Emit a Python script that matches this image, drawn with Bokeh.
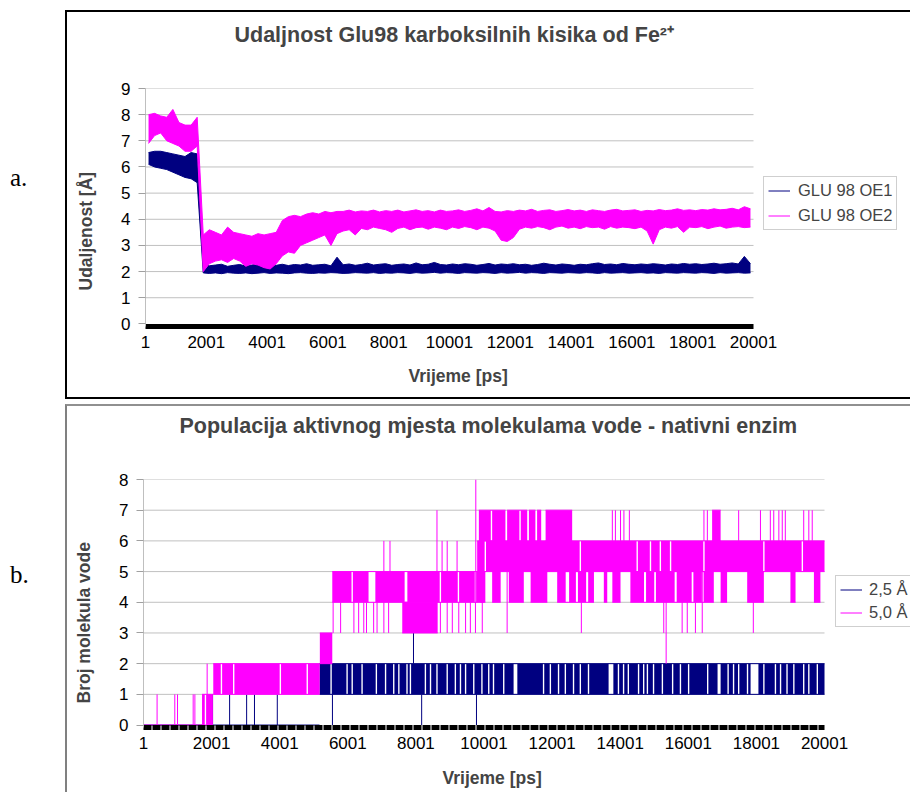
from bokeh.plotting import figure
from bokeh.models import (FixedTicker, Legend, LegendItem, Div, Title, Range1d, ColumnDataSource, Spacer)
from bokeh.layouts import column, row
from bokeh.embed import file_html
from bokeh.resources import INLINE

FONT = "Liberation Sans"
NAVY = "#000080"
MAGENTA = "#ff00ff"
GRID = "#c0c0c0"

# ---------------- shared axis data ----------------
x_ticks = [1, 2001, 4001, 6001, 8001, 10001, 12001, 14001, 16001, 18001, 20001]
x_tick_labels = ["1", "2001", "4001", "6001", "8001", "10001", "12001", "14001", "16001", "18001", "20001"]
ya_ticks = [0, 1, 2, 3, 4, 5, 6, 7, 8, 9]
yb_ticks = [0, 1, 2, 3, 4, 5, 6, 7, 8]

# ---------------- chart a: distance Glu98 O -> Fe (Å), min/max per 200 ps window ----------------
win_start = list(range(1, 20001, 200))
oe1_lo = [6.10, 6.00, 5.95, 5.90, 5.80, 5.70, 5.60, 5.55, 5.40, 1.95,
          1.93, 1.95, 1.92, 1.96, 1.94, 1.93, 1.95, 1.92, 1.94, 1.96,
          1.93, 1.95, 1.94, 1.92, 1.95, 1.96, 1.94, 1.93, 1.95, 1.94,
          1.96, 1.95, 1.93, 1.94, 1.96, 1.95, 1.94, 1.96, 1.93, 1.95,
          1.94, 1.96, 1.95, 1.93, 1.96, 1.94, 1.95, 1.97, 1.94, 1.96,
          1.95, 1.93, 1.96, 1.95, 1.94, 1.96, 1.95, 1.93, 1.96, 1.94,
          1.95, 1.97, 1.94, 1.96, 1.95, 1.93, 1.96, 1.95, 1.94, 1.96,
          1.95, 1.94, 1.96, 1.95, 1.93, 1.96, 1.94, 1.95, 1.96, 1.94,
          1.95, 1.96, 1.94, 1.95, 1.93, 1.96, 1.95, 1.94, 1.96, 1.95,
          1.94, 1.96, 1.95, 1.93, 1.96, 1.94, 1.95, 1.96, 1.94, 1.95]
oe1_hi = [6.55, 6.60, 6.60, 6.55, 6.50, 6.45, 6.40, 6.55, 6.50, 2.30,
          2.22, 2.25, 2.28, 2.20, 2.24, 2.27, 2.21, 2.25, 2.30, 2.22,
          2.26, 2.24, 2.28, 2.23, 2.27, 2.25, 2.30, 2.24, 2.26, 2.28,
          2.22, 2.55, 2.26, 2.29, 2.24, 2.27, 2.32, 2.25, 2.28, 2.30,
          2.24, 2.27, 2.29, 2.25, 2.33, 2.26, 2.28, 2.35, 2.27, 2.25,
          2.29, 2.26, 2.30, 2.28, 2.24, 2.27, 2.31, 2.25, 2.29, 2.27,
          2.30, 2.26, 2.28, 2.24, 2.27, 2.32, 2.28, 2.25, 2.29, 2.27,
          2.24, 2.28, 2.26, 2.30, 2.33, 2.27, 2.29, 2.26, 2.31, 2.28,
          2.26, 2.29, 2.27, 2.30, 2.28, 2.25, 2.29, 2.27, 2.31, 2.28,
          2.30, 2.27, 2.29, 2.32, 2.28, 2.30, 2.33, 2.29, 2.58, 2.30]
oe2_lo = [6.90, 7.20, 7.30, 7.00, 6.90, 6.80, 6.60, 6.60, 6.80, 2.00,
          2.30, 2.40, 2.45, 2.35, 2.50, 2.40, 2.20, 2.30, 2.25, 2.15,
          2.10, 2.30, 2.60, 2.75, 2.70, 3.00, 3.10, 3.20, 3.30, 3.40,
          3.00, 3.45, 3.55, 3.60, 3.40, 3.65, 3.60, 3.70, 3.65, 3.60,
          3.50, 3.65, 3.70, 3.60, 3.68, 3.70, 3.62, 3.70, 3.66, 3.60,
          3.70, 3.65, 3.72, 3.68, 3.60, 3.70, 3.66, 3.55, 3.20, 3.15,
          3.30, 3.62, 3.70, 3.66, 3.72, 3.68, 3.60, 3.70, 3.74, 3.66,
          3.70, 3.64, 3.72, 3.68, 3.70, 3.62, 3.72, 3.66, 3.70, 3.68,
          3.64, 3.70, 3.55, 3.05, 3.60, 3.70, 3.66, 3.72, 3.50, 3.70,
          3.68, 3.72, 3.64, 3.70, 3.74, 3.66, 3.70, 3.72, 3.68, 3.70]
oe2_hi = [8.00, 8.05, 7.95, 7.90, 8.20, 7.70, 7.60, 7.60, 7.90, 3.40,
          3.60, 3.50, 3.40, 3.70, 3.50, 3.45, 3.40, 3.35, 3.45, 3.40,
          3.45, 3.50, 3.95, 4.10, 4.15, 4.10, 4.20, 4.25, 4.20, 4.30,
          4.25, 4.30, 4.30, 4.35, 4.28, 4.32, 4.30, 4.35, 4.28, 4.33,
          4.30, 4.35, 4.28, 4.32, 4.36, 4.30, 4.33, 4.28, 4.35, 4.30,
          4.32, 4.36, 4.30, 4.34, 4.40, 4.32, 4.45, 4.30, 4.28, 4.33,
          4.30, 4.35, 4.32, 4.38, 4.30, 4.34, 4.36, 4.30, 4.33, 4.37,
          4.32, 4.35, 4.30, 4.36, 4.33, 4.30, 4.35, 4.38, 4.32, 4.34,
          4.36, 4.30, 4.34, 4.32, 4.37, 4.33, 4.35, 4.40, 4.34, 4.36,
          4.33, 4.37, 4.35, 4.40, 4.36, 4.38, 4.42, 4.36, 4.48, 4.40]

# ---------------- chart b: number of water molecules ----------------
# dense blocks: value flickers between lo and hi over [start, end] ps
nav_blocks = [(5170, 20001, 1, 2)]
# quiet stretches inside the 1-2 block (start, end)
nav_gaps = [(5490, 5530), (5960, 6000), (6110, 6150), (6400, 6440), (6820, 6860), (7090, 7130),
            (7330, 7370), (7480, 7520), (7720, 7760), (7820, 7860), (8260, 8300), (8410, 8450),
            (8600, 8640), (8900, 8940), (9140, 9180), (9290, 9330), (9440, 9480), (9680, 9720),
            (9920, 9960), (10120, 10160), (10260, 10300), (10560, 10600), (10870, 10980),
            (11730, 11770), (11930, 11970), (12170, 12210), (12370, 12410), (12610, 12650),
            (12810, 12850), (13050, 13090), (13660, 13800), (13930, 13970), (14080, 14120),
            (14220, 14260), (14520, 14560), (14670, 14710), (14780, 14820), (14960, 15000),
            (15220, 15260), (15520, 15560), (15750, 15790), (15990, 16030), (16550, 16590),
            (16860, 16950), (17150, 17190), (17310, 17350), (17460, 17500), (17720, 17760),
            (17830, 18060), (18200, 18240), (18540, 18580), (18690, 18730), (18880, 18920),
            (19080, 19120), (19370, 19410), (19520, 19560), (19770, 19810)]
nav_gap_levels = (1, 2)
nav_flat = [(1, 5170, 0)]
nav_spikes = [(2030, 0, 1), (2530, 0, 1), (3030, 0, 1), (3260, 0, 1), (3930, 0, 1),
              (5550, 0, 1), (8170, 0, 1), (9780, 0, 1), (7930, 2, 3)]

mag_blocks = [(1720, 2040, 0, 1), (2050, 5175, 1, 2), (5180, 5545, 2, 3), (5545, 10040, 4, 5),
              (7600, 8640, 3, 4), (9800, 20001, 5, 6),
              (9850, 10630, 6, 7), (10680, 11270, 6, 7), (11320, 11510, 6, 7), (11560, 11680, 6, 7),
              (11810, 12590, 6, 7), (16700, 16950, 6, 7),
              (9900, 9990, 4, 5), (10240, 10490, 4, 5), (10730, 11170, 4, 5), (11370, 11860, 4, 5),
              (12150, 13230, 4, 5), (13520, 13620, 4, 5), (13770, 14010, 4, 5), (14300, 16750, 4, 5),
              (16950, 17140, 4, 5), (17730, 18220, 4, 5), (19000, 19150, 4, 5), (19690, 19880, 4, 5)]
mag_gaps = [(1800, 1840, 0, 1), (2270, 2310, 1, 2), (2630, 2670, 1, 2), (4000, 4040, 1, 2),
            (4790, 4830, 1, 2),
            (6110, 6150, 4, 5), (6610, 6810, 4, 5), (7670, 7750, 4, 5), (8700, 8740, 4, 5),
            (9230, 9270, 4, 5), (9730, 9770, 4, 5),
            (10020, 10060, 5, 6), (12810, 12850, 5, 6), (14480, 14520, 5, 6), (14870, 14910, 5, 6),
            (15160, 15200, 5, 6), (15460, 15500, 5, 6), (16440, 16480, 5, 6), (18200, 18240, 5, 6),
            (19330, 19370, 5, 6),
            (12400, 12500, 4, 5), (12700, 12760, 4, 5), (13000, 13060, 4, 5), (14700, 14760, 4, 5),
            (15000, 15050, 4, 5), (15600, 15660, 4, 5), (16100, 16150, 4, 5), (16400, 16450, 4, 5),
            (11040, 11080, 6, 7), (10200, 10240, 6, 7)]
mag_flat = [(1, 1720, 0)]
mag_spikes = [(400, 0, 1), (920, 0, 1), (1000, 0, 1), (1460, 0, 1), (1510, 0, 1), (1870, 1, 2),
              (5570, 3, 4), (5790, 3, 4), (6180, 3, 4), (6320, 3, 4), (6470, 3, 4), (6550, 3, 4),
              (6760, 3, 4), (6860, 3, 4), (7060, 3, 4), (7200, 3, 4), (8720, 3, 4), (8920, 3, 4),
              (9070, 3, 4), (9260, 3, 4), (9460, 3, 4), (9600, 3, 4), (9750, 3, 4), (9950, 3, 4),
              (7060, 5, 6), (7240, 5, 6), (8620, 5, 7), (8770, 5, 6), (8920, 5, 6), (9210, 5, 6),
              (9760, 4, 8),
              (10680, 3, 5), (12860, 3, 5), (15280, 3, 5), (15350, 2, 5), (15820, 3, 5), (15970, 3, 5),
              (16210, 3, 5), (16410, 3, 5), (17910, 3, 5),
              (13770, 6, 7), (13860, 6, 7), (14010, 6, 7), (14110, 6, 7), (14270, 6, 7), (16460, 6, 7),
              (16560, 6, 7), (17480, 6, 7), (18120, 6, 7), (18410, 6, 7), (18510, 6, 7), (18660, 6, 7),
              (18760, 6, 7), (18850, 6, 7), (19390, 6, 7), (19540, 6, 7), (19640, 6, 7)]


def style_axes(p, yticks):
    p.xaxis.ticker = FixedTicker(ticks=x_ticks)
    p.xaxis.major_label_overrides = dict(zip(x_ticks, x_tick_labels))
    p.xaxis.bounds = (x_ticks[0], x_ticks[-1])
    p.yaxis.ticker = FixedTicker(ticks=yticks)
    p.grid.visible = False
    p.outline_line_color = None
    for ax in (p.xaxis[0], p.yaxis[0]):
        ax.major_label_text_font = FONT
        ax.major_label_text_font_size = "17px"
        ax.major_label_text_color = "#000000"
        ax.minor_tick_line_color = None
        ax.axis_label = None
    p.xaxis.axis_line_width = 5
    p.xaxis.axis_line_color = "#000000"
    p.xaxis.major_tick_line_color = None
    p.xaxis.major_tick_out = 0
    p.xaxis.major_tick_in = 0
    p.xaxis.major_label_standoff = 9
    p.yaxis.axis_line_color = "#bfbfbf"
    p.yaxis.major_tick_line_color = "#a0a0a0"
    p.yaxis.major_tick_out = 7
    p.yaxis.major_tick_in = 0
    p.yaxis.major_label_standoff = 8
    # horizontal gridlines, only over the plotted time span
    gsrc = ColumnDataSource(dict(y=yticks[1:]))
    p.segment(x0=x_ticks[0], x1=x_ticks[-1], y0="y", y1="y", source=gsrc,
              line_color=GRID, line_width=1)


def add_texts(p, title, title_gap, title_offset, xlabel_gap, xlabel_offset,
              ylabel, ylabel_gap, ylabel_offset):
    # chart title (a blank spacer title keeps it away from the plot area)
    p.add_layout(Title(text=" ", text_font_size="10px", standoff=title_gap), "above")
    p.add_layout(Title(text=title, align="left", offset=title_offset, standoff=0,
                       text_font=FONT, text_font_size="21.5px", text_font_style="bold"), "above")
    # x axis title
    p.add_layout(Title(text=" ", text_font_size="10px", standoff=xlabel_gap), "below")
    p.add_layout(Title(text="Vrijeme [ps]", align="left", offset=xlabel_offset, standoff=0,
                       text_font=FONT, text_font_size="17.5px", text_font_style="bold"), "below")
    # y axis title
    p.add_layout(Title(text=" ", text_font_size="10px", standoff=ylabel_gap), "left")
    p.add_layout(Title(text=ylabel, align="left", offset=ylabel_offset, standoff=0,
                       text_font=FONT, text_font_size="17.5px", text_font_style="bold"), "left")


# ================= figure a =================
pa = figure(width=845, height=389, x_range=Range1d(1, 25231), y_range=Range1d(-0.1, 9),
            output_backend="svg", toolbar_location=None, title=None,
            min_border_left=78, min_border_right=0, min_border_top=76, min_border_bottom=75)
style_axes(pa, ya_ticks)
add_texts(pa, "Udaljnost Glu98 karboksilnih kisika od Fe²⁺", 29, 89, 0, 263,
          "Udaljenost [Å]", 10, 36)

win_mid = [s + 100 for s in win_start]
src1 = ColumnDataSource(dict(x=win_mid, lo=oe1_lo, hi=oe1_hi))
src2 = ColumnDataSource(dict(x=win_mid, lo=oe2_lo, hi=oe2_hi))
pa.varea(x="x", y1="lo", y2="hi", source=src1, fill_color=NAVY)
l1a = pa.line(x="x", y="lo", source=src1, line_color=NAVY, line_width=1)
pa.line(x="x", y="hi", source=src1, line_color=NAVY, line_width=1)
pa.varea(x="x", y1="lo", y2="hi", source=src2, fill_color=MAGENTA)
l2a = pa.line(x="x", y="lo", source=src2, line_color=MAGENTA, line_width=1)
pa.line(x="x", y="hi", source=src2, line_color=MAGENTA, line_width=1)

leg_a = Legend(items=[LegendItem(label="GLU 98 OE1", renderers=[l1a]),
                      LegendItem(label="GLU 98 OE2", renderers=[l2a])],
               location=(618, 96), label_text_font=FONT, label_text_font_size="16.5px",
               border_line_color="#a0a0a0", border_line_width=1, padding=4, spacing=6,
               glyph_width=22, glyph_height=19, label_standoff=8, label_height=19)
pa.add_layout(leg_a, "center")
pa.styles = {"border-left": "2px solid #000", "border-top": "2px solid #000",
             "border-bottom": "2px solid #000"}


# ================= figure b =================
pb = figure(width=845, height=388, x_range=Range1d(1, 22585), y_range=Range1d(-0.08, 8),
            output_backend="svg", toolbar_location=None, title=None,
            min_border_left=76, min_border_right=0, min_border_top=73, min_border_bottom=67)
style_axes(pb, yb_ticks)
pb.xaxis.axis_line_dash = "8 1"
add_texts(pb, "Populacija aktivnog mjesta molekulama vode - nativni enzim", 29, 36, 1, 299,
          "Broj molekula vode", 10, 24)


def draw_series(p, color, blocks, gaps, flats, spikes):
    b = ColumnDataSource(dict(l=[q[0] for q in blocks], r=[q[1] for q in blocks],
                              b=[q[2] for q in blocks], t=[q[3] for q in blocks]))
    p.quad(left="l", right="r", bottom="b", top="t", source=b, fill_color=color, line_color=None)
    g = ColumnDataSource(dict(l=[q[0] for q in gaps], r=[q[1] for q in gaps],
                              b=[q[2] for q in gaps], t=[q[3] for q in gaps]))
    p.quad(left="l", right="r", bottom="b", top="t", source=g, fill_color="white", line_color=None)
    e = ColumnDataSource(dict(x0=[q[0] for q in blocks] * 2 + [f[0] for f in flats],
                              x1=[q[1] for q in blocks] * 2 + [f[1] for f in flats],
                              y=[q[2] for q in blocks] + [q[3] for q in blocks] + [f[2] for f in flats]))
    p.segment(x0="x0", x1="x1", y0="y", y1="y", source=e, line_color=color, line_width=1)
    s = ColumnDataSource(dict(x=[q[0] for q in spikes], y0=[q[1] for q in spikes], y1=[q[2] for q in spikes]))
    return p.segment(x0="x", x1="x", y0="y0", y1="y1", source=s, line_color=color, line_width=1)


nav_gap_quads = [(a, b, nav_gap_levels[0], nav_gap_levels[1]) for a, b in nav_gaps]
r_nav = draw_series(pb, NAVY, nav_blocks, nav_gap_quads, nav_flat, nav_spikes)
r_mag = draw_series(pb, MAGENTA, mag_blocks, mag_gaps, mag_flat, mag_spikes)

leg_b = Legend(items=[LegendItem(label="2,5 Å", renderers=[r_nav]),
                      LegendItem(label="5,0 Å", renderers=[r_mag])],
               location=(692, 100), label_text_font=FONT, label_text_font_size="16.5px",
               border_line_color="#a0a0a0", border_line_width=1, padding=4, spacing=4,
               glyph_width=22, glyph_height=19, label_standoff=7, label_height=19)
pb.add_layout(leg_b, "center")
pb.styles = {"border-left": "2px solid #808080", "border-top": "2px solid #909090"}


def side_label(txt, top, h):
    return Div(text=('<div style="font-family:\'Liberation Serif\',serif;font-size:25px;'
                     'position:relative;top:%dpx;left:10px;color:#000">%s</div>' % (top, txt)),
               width=65, height=h, margin=0)


pa.margin = 0
pb.margin = 0
layout = column(Spacer(height=10, margin=0),
                row(side_label("a.", 150, 389), pa, spacing=0),
                Spacer(height=5, margin=0),
                row(side_label("b.", 153, 388), pb, spacing=0),
                spacing=0)

open("out.html", "w").write(file_html(layout, INLINE))
